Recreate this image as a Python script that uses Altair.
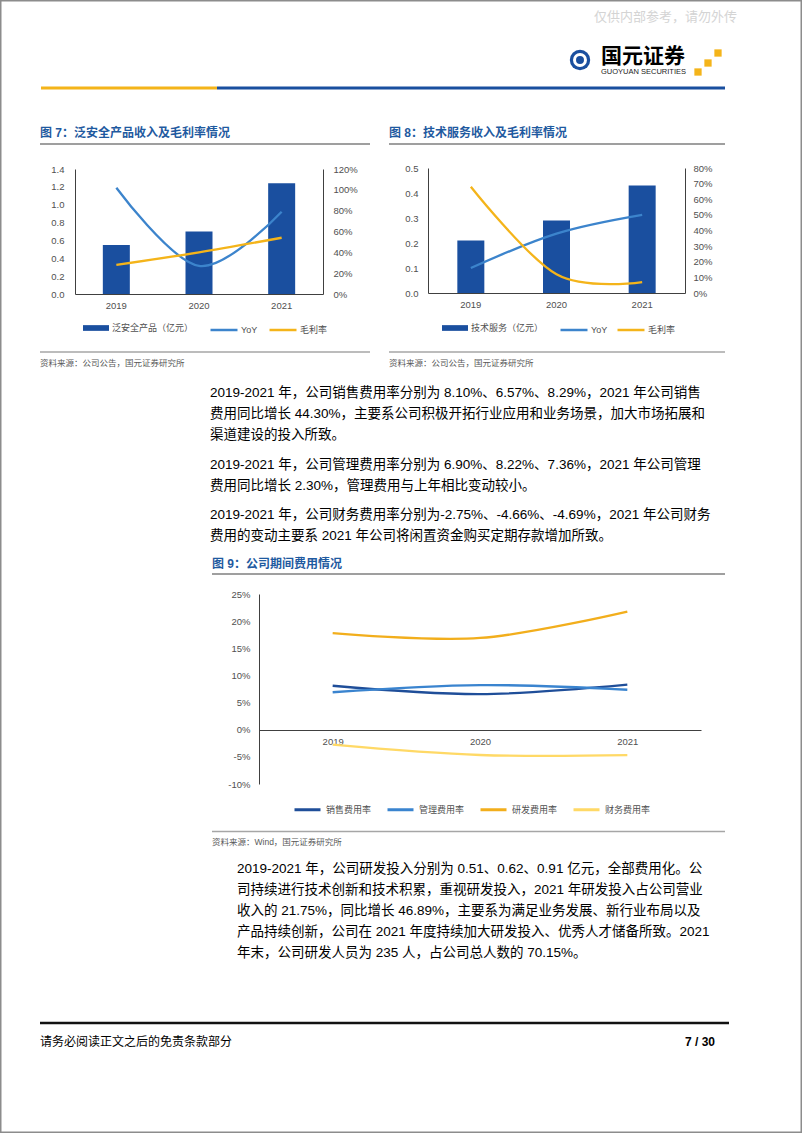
import altair as alt
import pandas as pd

# ------------------------------------------------------------------ data
years = ["2019", "2020", "2021"]

fig7_title = "图 7：泛安全产品收入及毛利率情况"
fig7_bar_name = "泛安全产品（亿元）"
fig7_revenue = [0.55, 0.70, 1.24]
fig7_yoy = [1.02, 0.27, 0.79]
fig7_margin = [0.28, 0.40, 0.54]

fig8_title = "图 8：技术服务收入及毛利率情况"
fig8_bar_name = "技术服务（亿元）"
fig8_revenue = [0.21, 0.29, 0.43]
fig8_yoy = [0.16, 0.38, 0.50]
fig8_margin = [0.68, 0.12, 0.07]

line_names = ["YoY", "毛利率"]

fig9_title = "图 9：公司期间费用情况"
fig9_names = ["销售费用率", "管理费用率", "研发费用率", "财务费用率"]
fig9_sales = [0.0810, 0.0657, 0.0829]
fig9_admin = [0.0690, 0.0822, 0.0736]
fig9_rd = [0.178, 0.169, 0.2175]
fig9_fin = [-0.0275, -0.0466, -0.0469]

fig7_left_ticks = [0.0, 0.2, 0.4, 0.6, 0.8, 1.0, 1.2, 1.4]
fig7_right_ticks = [0.0, 0.2, 0.4, 0.6, 0.8, 1.0, 1.2]
fig8_left_ticks = [0.0, 0.1, 0.2, 0.3, 0.4, 0.5]
fig8_right_ticks = [0.0, 0.1, 0.2, 0.3, 0.4, 0.5, 0.6, 0.7, 0.8]
fig9_ticks = [-0.10, -0.05, 0.0, 0.05, 0.10, 0.15, 0.20, 0.25]

source_ann = "资料来源：公司公告，国元证券研究所"
source_wind = "资料来源：Wind，国元证券研究所"
watermark = "仅供内部参考，请勿外传"
logo_cn = "国元证券"
logo_en = "GUOYUAN SECURITIES"
footer_left = "请务必阅读正文之后的免责条款部分"
footer_right = "7 / 30"

para1 = [
    "2019-2021 年，公司销售费用率分别为 8.10%、6.57%、8.29%，2021 年公司销售",
    "费用同比增长 44.30%，主要系公司积极开拓行业应用和业务场景，加大市场拓展和",
    "渠道建设的投入所致。",
    "2019-2021 年，公司管理费用率分别为 6.90%、8.22%、7.36%，2021 年公司管理",
    "费用同比增长 2.30%，管理费用与上年相比变动较小。",
    "2019-2021 年，公司财务费用率分别为-2.75%、-4.66%、-4.69%，2021 年公司财务",
    "费用的变动主要系 2021 年公司将闲置资金购买定期存款增加所致。",
]
para2 = [
    "2019-2021 年，公司研发投入分别为 0.51、0.62、0.91 亿元，全部费用化。公",
    "司持续进行技术创新和技术积累，重视研发投入，2021 年研发投入占公司营业",
    "收入的 21.75%，同比增长 46.89%，主要系为满足业务发展、新行业布局以及",
    "产品持续创新，公司在 2021 年度持续加大研发投入、优秀人才储备所致。2021",
    "年末，公司研发人员为 235 人，占公司总人数的 70.15%。",
]

# ------------------------------------------------------------------ style / page
W, H = 802, 1133
FONT = "Liberation Sans, Noto Sans CJK SC"
NUMFONT = "Liberation Sans"
BAR = "#1A4F9F"
YOY = "#3C84CC"
GM = "#F4B41A"
F9_COLORS = ["#1F4E99", "#3A84CF", "#F2AE1C", "#FFD966"]
TITLE_BLUE = "#1F5AA0"
AXC = "#404040"
LABC = "#505050"
BORDER = "#8c8c8c"

one = pd.DataFrame({"k": [0]})

AXIS_STYLE = dict(title=None, ticks=False, tickSize=0, grid=False, labelFontSize=9.5,
                  labelFont=NUMFONT, labelColor=LABC, domainColor=AXC, domainWidth=1)


def hline(x1, x2, y, color, w, cap="butt"):
    return alt.Chart(one).mark_rule(color=color, strokeWidth=w, strokeCap=cap).encode(
        x=alt.value(x1), x2=alt.value(x2), y=alt.value(y))


def vline(x, y1, y2, color, w, cap="butt"):
    return alt.Chart(one).mark_rule(color=color, strokeWidth=w, strokeCap=cap).encode(
        x=alt.value(x), y=alt.value(y1), y2=alt.value(y2))


def txt(x, y, s, size, color="#000000", weight="normal", align="left", font=FONT):
    return alt.Chart(one).mark_text(text=s, align=align, baseline="middle", fontSize=size,
                                    color=color, fontWeight=weight, font=font).encode(
        x=alt.value(x), y=alt.value(y))


def sym(x, y, shape, size, color, filled=True, sw=1):
    return alt.Chart(one).mark_point(shape=shape, size=size, filled=filled, color=color,
                                     strokeWidth=sw, opacity=1).encode(
        x=alt.value(x), y=alt.value(y))


def combo(rev, yoy, margin, bar_name, xr, yr, ldom, lticks, rdom, rticks,
          lpad, rpad, bar_leg, line_leg):
    """Bar + two smoothed lines on a dual axis, placed by the scale ranges (page px)."""
    df = pd.DataFrame({"year": years, "rev": rev, line_names[0]: yoy,
                       line_names[1]: margin, "bar": [bar_name] * len(years)})
    base = alt.Chart(df)
    x = alt.X("year:N", scale=alt.Scale(range=xr, paddingInner=0, paddingOuter=0),
              axis=alt.Axis(orient="bottom", offset=yr[0] - H, labelAngle=0, labelPadding=6,
                            **AXIS_STYLE))
    bars = base.mark_bar(size=27, color=BAR).encode(
        x=x,
        y=alt.Y("rev:Q", scale=alt.Scale(domain=ldom, range=yr, nice=False, zero=False),
                axis=alt.Axis(orient="left", offset=-xr[0], values=lticks, format=".1f",
                              labelPadding=lpad, **AXIS_STYLE)),
        color=alt.Color("bar:N", scale=alt.Scale(domain=[bar_name], range=[BAR]),
                        legend=alt.Legend(title=None, orient="none", legendX=bar_leg[0],
                                          legendY=bar_leg[1], direction="horizontal",
                                          symbolType="M-1,-0.22H1V0.22H-1Z", symbolSize=676,
                                          symbolStrokeWidth=0, labelFontSize=9, labelOffset=3,
                                          labelFont=FONT, labelColor=LABC, padding=0)),
    )
    lines = base.transform_fold(line_names, as_=["series", "val"]).mark_line(
        interpolate="cardinal", tension=0, strokeWidth=2.3).encode(
        x=x,
        y=alt.Y("val:Q", scale=alt.Scale(domain=rdom, range=yr, nice=False, zero=False),
                axis=alt.Axis(orient="right", offset=xr[1] - W, values=rticks, format=".0%",
                              labelPadding=rpad, **AXIS_STYLE)),
        color=alt.Color("series:N", scale=alt.Scale(domain=line_names, range=[YOY, GM]),
                        legend=alt.Legend(title=None, orient="none", legendX=line_leg[0],
                                          legendY=line_leg[1], direction="horizontal",
                                          symbolType="stroke", symbolSize=729,
                                          symbolStrokeWidth=2.5, columnPadding=line_leg[2],
                                          labelFontSize=9, labelOffset=2, labelFont=FONT,
                                          labelColor=LABC, padding=0)),
    )
    return alt.layer(bars, lines).resolve_scale(y="independent", color="independent")


fig7 = combo(fig7_revenue, fig7_yoy, fig7_margin, fig7_bar_name, [75, 323], [294, 169],
             [0, 1.4], fig7_left_ticks, [0, 1.2], fig7_right_ticks,
             11, 10, (83, 315), (209, 315, 6))
fig8 = combo(fig8_revenue, fig8_yoy, fig8_margin, fig8_bar_name, [428, 685], [293, 168],
             [0, 0.5], fig8_left_ticks, [0, 0.8], fig8_right_ticks,
             10, 8, (442, 315), (559, 315, 4))

# ------------------------------------------------------------------ fig 9
rows = []
for name, vals in zip(fig9_names, [fig9_sales, fig9_admin, fig9_rd, fig9_fin]):
    for yr_, v in zip(years, vals):
        rows.append({"year": yr_, "series": name, "val": v})
df9 = pd.DataFrame(rows)

fig9 = alt.Chart(df9).mark_line(interpolate="cardinal", tension=0, strokeWidth=2.3).encode(
    x=alt.X("year:N", scale=alt.Scale(range=[259, 701], paddingInner=0, paddingOuter=0),
            axis=alt.Axis(orient="bottom", offset=730 - H, labelAngle=0, labelPadding=6,
                          **AXIS_STYLE)),
    y=alt.Y("val:Q", scale=alt.Scale(domain=[-0.10, 0.25], range=[784, 594], nice=False,
                                     zero=False),
            axis=alt.Axis(orient="left", offset=-259, values=fig9_ticks, labelPadding=9,
                          labelExpr="replace(format(datum.value, '.0%'), '\u2212', '-')",
                          **AXIS_STYLE)),
    color=alt.Color("series:N", scale=alt.Scale(domain=fig9_names, range=F9_COLORS),
                    legend=alt.Legend(title=None, orient="none", legendX=293, legendY=795,
                                      direction="horizontal", symbolType="stroke",
                                      symbolSize=676, symbolStrokeWidth=3, columnPadding=9,
                                      labelFontSize=9, labelOffset=4, labelFont=FONT,
                                      labelColor=LABC, padding=0)),
)

# ------------------------------------------------------------------ page furniture
deco = [
    # page frame
    hline(0.75, 801.25, 0.75, BORDER, 1.5, cap="square"),
    hline(0.75, 801.25, 1132.25, BORDER, 1.5, cap="square"),
    vline(0.75, 0.75, 1132.25, BORDER, 1.5, cap="square"),
    vline(801.25, 0.75, 1132.25, BORDER, 1.5, cap="square"),
    # header
    txt(594, 17, watermark, 13, color="#d4d4d4"),
    sym(580, 60, "circle", 415, BAR),
    sym(580, 60, "circle", 120, "#ffffff", filled=False, sw=3),
    sym(580, 60, "diamond", 40, BAR),
    txt(601, 57, logo_cn, 21, weight="bold"),
    txt(601, 72, logo_en, 7.5, color="#222222", font=NUMFONT),
    alt.Chart(one).mark_square(size=53, color=GM, opacity=1).encode(
        x=alt.value(698), y=alt.value(72)),
    alt.Chart(one).mark_square(size=53, color=GM, opacity=1).encode(
        x=alt.value(708), y=alt.value(63)),
    alt.Chart(one).mark_square(size=53, color=GM, opacity=1).encode(
        x=alt.value(718), y=alt.value(53)),
    hline(41, 217, 88, GM, 3),
    hline(217, 725, 88, BAR, 3),
    # figure 7 / 8 frames
    txt(40, 133, fig7_title, 12, color=TITLE_BLUE, weight="bold"),
    hline(40, 370, 144, AXC, 1.2),
    hline(40, 370, 352, "#A6A6A6", 1.5),
    txt(40, 363, source_ann, 8.5, color="#595959"),
    txt(389, 133, fig8_title, 12, color=TITLE_BLUE, weight="bold"),
    hline(389, 725, 144, AXC, 1.2),
    hline(389, 725, 352, "#A6A6A6", 1.5),
    txt(389, 363, source_ann, 8.5, color="#595959"),
    # figure 9 frame
    txt(212, 564, fig9_title, 12, color=TITLE_BLUE, weight="bold"),
    hline(212, 725, 574, AXC, 1.2),
    hline(212, 725, 831.5, "#A6A6A6", 1.5),
    txt(212, 842, source_wind, 8.5, color="#595959"),
    # footer
    hline(40, 729, 1023, "#111111", 2.5),
    txt(40, 1042, footer_left, 12),
    txt(715, 1042, footer_right, 12, weight="bold", align="right", font=NUMFONT),
]
for line, yy in zip(para1, [393, 414, 435, 465, 486, 515, 536]):
    deco.append(txt(210, yy, line, 13.5))
for line, yy in zip(para2, [869, 890, 911, 932, 953]):
    deco.append(txt(237, yy, line, 13.5))

chart = alt.layer(fig7, fig8, fig9, *deco).resolve_scale(
    x="independent", y="independent", color="independent"
).properties(
    width=W, height=H, padding=0, autosize=alt.AutoSizeParams(type="none"),
    background="#ffffff"
).configure_view(stroke=None)

chart.save("out.html", embed_options={"renderer": "svg", "actions": False})
